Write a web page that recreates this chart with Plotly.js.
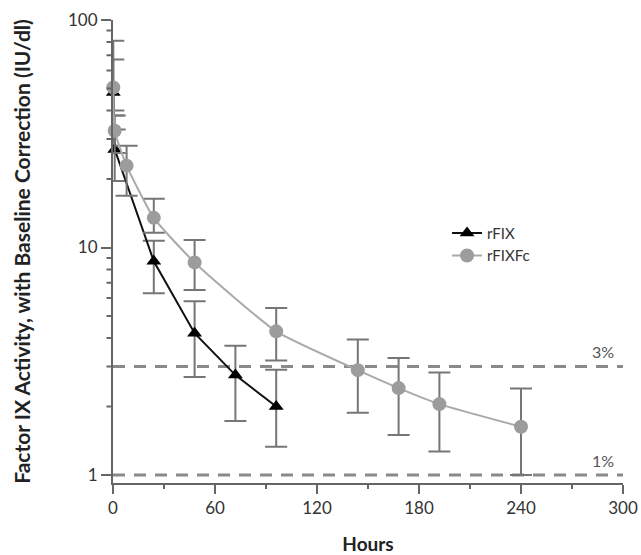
<!DOCTYPE html>
<html>
<head>
<meta charset="utf-8">
<script src="https://cdn.plot.ly/plotly-3.0.1.min.js"></script>
<style>html,body{margin:0;padding:0;background:#fff;}#chart{width:641px;height:555px;}</style>
</head>
<body>
<div id="chart"></div>
<script>
// rFIX (black triangles)
var rfixHours = [0.17, 1, 24, 48, 72, 96];
var rfixMean  = [48, 27, 8.7, 4.2, 2.75, 2.0];
var rfixUpper = [67, 33, 10.7, 5.8, 3.7, 2.9];
var rfixLower = [38, 19.6, 6.3, 2.7, 1.73, 1.33];

// rFIXFc (grey circles)
var rfixfcHours = [0.17, 1, 8, 24, 48, 96, 144, 168, 192, 240];
var rfixfcMean  = [50.5, 32.6, 22.9, 13.5, 8.6, 4.28, 2.89, 2.41, 2.05, 1.63];
var rfixfcUpper = [81, 38, 28, 16.4, 10.8, 5.42, 3.94, 3.27, 2.82, 2.40];
var rfixfcLower = [40, 26, 16.9, 11.6, 6.5, 3.19, 1.88, 1.50, 1.27, 1.0];

// reference levels
var refLevels = [3, 1];
var refLabels = ['3%', '1%'];

// axis ticks
var xRange = [0, 300];
var xMajorTicks = [0, 60, 120, 180, 240, 300];
var xMinorTicks = [30, 90, 150, 210, 270];
var yRange = [-0.035, 2];
var yMajorTicks = [1, 10, 100];
var yMinorTicks = [2, 3, 4, 5, 6, 7, 8, 9, 20, 30, 40, 50, 60, 70, 80, 90];

function diff(a, b) { return a.map(function (v, i) { return v - b[i]; }); }

var errCol = '#767676';
var axCol = '#666';

var traces = [
  {
    x: rfixHours, y: rfixMean, name: 'rFIX', type: 'scatter', mode: 'lines+markers',
    cliponaxis: false,
    line: {color: '#111111', width: 2},
    marker: {symbol: 'triangle-up', size: 13, color: '#000000'},
    error_y: {type: 'data', symmetric: false, array: diff(rfixUpper, rfixMean),
              arrayminus: diff(rfixMean, rfixLower), color: errCol, thickness: 2, width: 11}
  },
  {
    x: rfixfcHours, y: rfixfcMean, name: 'rFIXFc', type: 'scatter', mode: 'lines+markers',
    cliponaxis: false,
    line: {color: '#aaaaaa', width: 2, shape: 'spline', smoothing: 0.5},
    marker: {symbol: 'circle', size: 14, color: '#9c9c9c'},
    error_y: {type: 'data', symmetric: false, array: diff(rfixfcUpper, rfixfcMean),
              arrayminus: diff(rfixfcMean, rfixfcLower), color: errCol, thickness: 2, width: 11}
  }
];

// dashed reference lines
var shapes = refLevels.map(function (v) {
  return {type: 'line', xref: 'x', yref: 'y', x0: xRange[0], x1: xRange[1], y0: v, y1: v,
          line: {color: '#8a8a8a', width: 3, dash: '12px,9px'}, layer: 'below'};
});

var annotations = refLevels.map(function (v, i) {
  return {x: 288, y: Math.log10(v), xref: 'x', yref: 'y', text: refLabels[i], showarrow: false,
          yanchor: 'bottom', yshift: 3, font: {family: 'Lato, sans-serif', size: 16, color: '#555'}};
});
// minor tick marks drawn as short head-less arrows outside the axes
xMinorTicks.forEach(function (v) {
  annotations.push({x: v, y: 0, xref: 'x', yref: 'paper', text: ' ', showarrow: true,
    arrowhead: 0, arrowwidth: 2, arrowcolor: axCol, ax: 0, ay: 7, standoff: 0, startstandoff: 0,
    borderpad: 0, font: {size: 1}});
});
yMinorTicks.forEach(function (v) {
  annotations.push({x: 0, y: Math.log10(v), xref: 'paper', yref: 'y', text: ' ', showarrow: true,
    arrowhead: 0, arrowwidth: 2, arrowcolor: axCol, ax: -7, ay: 0, standoff: 0, startstandoff: 0,
    borderpad: 0, font: {size: 1}});
});

var layout = {
  width: 641, height: 555,
  margin: {l: 113, r: 18, t: 20, b: 72},
  paper_bgcolor: '#ffffff', plot_bgcolor: '#ffffff',
  font: {family: 'Lato, sans-serif', color: '#333'},
  showlegend: true,
  legend: {x: 0.655, y: 0.575, xanchor: 'left', yanchor: 'top', bgcolor: 'rgba(0,0,0,0)',
           font: {size: 15, color: '#333'}, tracegroupgap: 0},
  xaxis: {
    range: xRange, tickvals: xMajorTicks, ticks: 'outside', ticklen: 9, tickwidth: 2, tickcolor: axCol,
    showline: true, linecolor: axCol, linewidth: 2, showgrid: false, zeroline: false,
    tickfont: {size: 17, color: '#333'},
    title: {text: '<b>Hours</b>', font: {size: 19, color: '#222'}, standoff: 22}
  },
  yaxis: {
    type: 'log', range: yRange, tickvals: yMajorTicks, ticktext: yMajorTicks.map(String),
    ticks: 'outside', ticklen: 10, tickwidth: 2, tickcolor: axCol,
    showline: true, linecolor: axCol, linewidth: 2, showgrid: false, zeroline: false,
    tickfont: {size: 17, color: '#333'},
    title: {text: '<b>Factor IX Activity, with Baseline Correction (IU/dl)</b>', font: {size: 21, color: '#222'}, standoff: 32}
  },
  shapes: shapes,
  annotations: annotations
};

Plotly.newPlot('chart', traces, layout, {displayModeBar: false});
</script>
</body>
</html>
